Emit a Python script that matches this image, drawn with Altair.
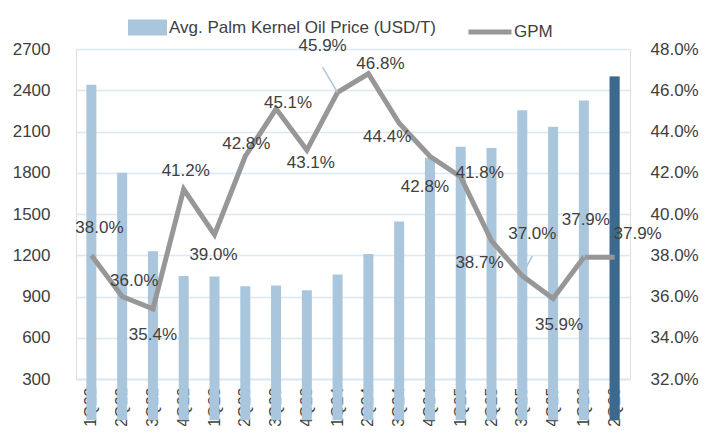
import altair as alt
import pandas as pd

quarters = ["1Q22", "2Q22", "3Q22", "4Q22", "1Q23", "2Q23", "3Q23", "4Q23", "1Q24",
            "2Q24", "3Q24", "4Q24", "1Q25", "2Q25", "3Q25", "4Q25", "1Q26", "2Q26"]
price = [2440, 1800, 1230, 1050, 1045, 975, 980, 945, 1060,
         1210, 1445, 1910, 1990, 1980, 2255, 2135, 2325, 2500]
gpm = [38.0, 36.0, 35.4, 41.2, 39.0, 42.8, 45.1, 43.1, 45.9,
       46.8, 44.4, 42.8, 41.8, 38.7, 37.0, 35.9, 37.9, 37.9]

price_name = "Avg. Palm Kernel Oil Price (USD/T)"
gpm_name = "GPM"
highlight = "2Q26"

# label nudges (pixels) relative to each GPM point
label_dx = [8, 12, 0, 2, -1, 1, 12, 4, -15, 12, -12, -5, 19, -12, 10, 6, 2, 23]
label_dy = [-27, -16, 26, -18, 20, -12, -6, 13, -46, -10, 14, 31, -4, 22, -42, 26, -37, -23]

# leader-line shapes for labels moved far from their point
leaders = {"1Q24": ("M0,0L-0.6,-1", 2500),
           "3Q25": ("M0.05,-0.15L0.5,-1", 1600),
           "1Q26": ("M0,0L0.13,-1", 900)}

df = pd.DataFrame({
    "Quarter": quarters,
    "Price": price,
    "GPM": [v / 100 for v in gpm],
    "PriceSeries": price_name,
    "GPMSeries": gpm_name,
})

FONT = "Liberation Sans"
TXT = "#404040"
LIGHT = "#A9C6DD"
DARK = "#3B6A8E"
GRAY = "#979797"
GRID = "#DCE8F2"

x_enc = alt.X("Quarter:N", sort=quarters, title=None,
              scale=alt.Scale(paddingInner=0.0, paddingOuter=0.0),
              axis=alt.Axis(labelAngle=-90, labelFontSize=16, labelColor=TXT, labelFont=FONT,
                            ticks=False, domainColor=GRID, domainWidth=2, labelPadding=8,
                            grid=False, labelLimit=200))

y_left = alt.Y("Price:Q", title=None,
               scale=alt.Scale(domain=[300, 2700], zero=False, nice=False),
               axis=alt.Axis(values=list(range(300, 2701, 300)), format="d", labelFontSize=17,
                             labelColor=TXT, labelFont=FONT, ticks=False, domain=False, grid=True,
                             gridColor=GRID, gridWidth=1.5, labelPadding=26, orient="left"))

y_right = alt.Y("GPM:Q", title=None,
                scale=alt.Scale(domain=[0.32, 0.48], zero=False, nice=False),
                axis=alt.Axis(values=[0.32, 0.34, 0.36, 0.38, 0.40, 0.42, 0.44, 0.46, 0.48],
                              format=".1%", labelFontSize=17, labelColor=TXT, labelFont=FONT,
                              ticks=False, domain=False, grid=False, labelPadding=20,
                              orient="right"))

base = alt.Chart(df)

bars = base.mark_bar(size=10).encode(
    x=x_enc,
    y=y_left,
    fill=alt.Fill("PriceSeries:N", scale=alt.Scale(domain=[price_name], range=[LIGHT]),
                  legend=alt.Legend(title=None, orient="none", legendX=52, legendY=-41,
                                    symbolType="M-1,-0.41H1V0.41H-1Z", symbolSize=1521,
                                    symbolStrokeWidth=0, labelFontSize=17, labelColor=TXT,
                                    labelFont=FONT, labelOffset=2, padding=0, labelLimit=400)),
)
last_bar = base.transform_filter(alt.datum.Quarter == highlight).mark_bar(size=10, color=DARK).encode(
    x=x_enc, y=y_left)

line = base.mark_line(strokeWidth=5).encode(
    x=x_enc,
    y=y_right,
    stroke=alt.Stroke("GPMSeries:N", scale=alt.Scale(domain=[gpm_name], range=[GRAY]),
                      legend=alt.Legend(title=None, orient="none", legendX=390, legendY=-41,
                                        symbolType="stroke", symbolSize=1849,
                                        symbolStrokeWidth=5, labelFontSize=17, labelColor=TXT,
                                        labelFont=FONT, labelOffset=0, padding=0)),
)

leader_layers = []
for q, (shape, size) in leaders.items():
    leader_layers.append(
        base.transform_filter(alt.datum.Quarter == q).mark_point(
            shape=shape, size=size, filled=False, stroke="#A9C6DD", strokeWidth=1.5, opacity=1
        ).encode(x=x_enc, y=y_right)
    )

label_layers = []
for q, dx, dy in zip(quarters, label_dx, label_dy):
    label_layers.append(
        base.transform_filter(alt.datum.Quarter == q).mark_text(
            dx=dx, dy=dy, fontSize=17, font=FONT, color=TXT, align="center", baseline="middle"
        ).encode(x=x_enc, y=y_right, text=alt.Text("GPM:Q", format=".1%"))
    )

left_layer = alt.layer(bars, last_bar)
right_layer = alt.layer(line, *leader_layers, *label_layers)

chart = alt.layer(left_layer, right_layer).resolve_scale(
    y="independent"
).resolve_legend(fill="independent", stroke="independent").properties(
    width=554,
    height=330,
    autosize=alt.AutoSizeParams(type="none"),
    padding={"left": 68, "top": 41, "right": 69, "bottom": 47},
).configure_view(stroke=None).configure(background="white")

chart.save("out.html", embed_options={"renderer": "svg", "actions": False})
